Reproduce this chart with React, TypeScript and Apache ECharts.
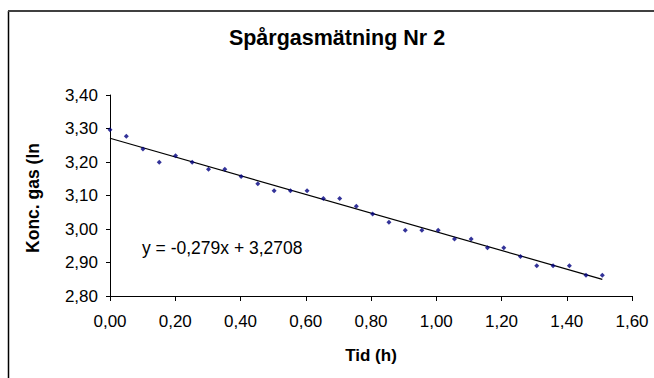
import React, { useEffect, useRef } from "react";
import * as echarts from "echarts";

const chartTitle = "Spårgasmätning Nr 2";
const xAxisTitle = "Tid (h)";
const yAxisTitle = "Konc. gas (ln";
const equationText = "y = -0,279x + 3,2708";

const timeH = [
  0, 0.05, 0.101, 0.151, 0.201, 0.252, 0.302, 0.352, 0.402, 0.453, 0.503,
  0.553, 0.604, 0.654, 0.704, 0.755, 0.805, 0.855, 0.905, 0.956, 1.006,
  1.056, 1.107, 1.157, 1.207, 1.258, 1.308, 1.358, 1.408, 1.459, 1.509,
];
const lnConc = [
  3.296, 3.277, 3.239, 3.199, 3.219, 3.199, 3.178, 3.178, 3.157, 3.135, 3.114,
  3.114, 3.114, 3.091, 3.091, 3.068, 3.045, 3.02, 2.996, 2.996, 2.996,
  2.97, 2.97, 2.944, 2.944, 2.918, 2.89, 2.89, 2.89, 2.862, 2.862,
];
const trendSlope = -0.279;
const trendIntercept = 3.2708;
const trendRange = [0, 1.509];

const FONT = "'Liberation Sans', Arial, sans-serif";
const fmt = (v: number) => v.toFixed(2).replace(".", ",");

export default function App() {
  const ref = useRef<HTMLDivElement>(null);
  useEffect(() => {
    if (!ref.current) return;
    const chart = echarts.init(ref.current, undefined, { renderer: "svg" });
    const points = timeH.map((t, i) => [t, lnConc[i]]);
    const trend = trendRange.map((t) => [t, trendIntercept + trendSlope * t]);
    chart.setOption({
      animation: false,
      backgroundColor: "#ffffff",
      grid: { left: 110, right: 22, top: 95, bottom: 82 },
      xAxis: {
        type: "value",
        min: 0,
        max: 1.6,
        interval: 0.2,
        axisLine: { show: true, lineStyle: { color: "#000", width: 1 } },
        axisTick: { show: true, length: 5, lineStyle: { color: "#000" } },
        splitLine: { show: false },
        axisLabel: {
          color: "#000",
          fontFamily: FONT,
          fontSize: 17,
          margin: 17,
          formatter: fmt,
        },
      },
      yAxis: {
        type: "value",
        min: 2.8,
        max: 3.4,
        interval: 0.1,
        axisLine: { show: true, lineStyle: { color: "#000", width: 1 } },
        axisTick: { show: true, length: 4, lineStyle: { color: "#000" } },
        splitLine: { show: false },
        axisLabel: {
          color: "#000",
          fontFamily: FONT,
          fontSize: 17,
          margin: 12,
          formatter: fmt,
        },
      },
      series: [
        {
          type: "line",
          data: trend,
          symbol: "none",
          lineStyle: { color: "#000", width: 1.2 },
          z: 2,
        },
        {
          type: "scatter",
          data: points,
          symbol: "diamond",
          symbolSize: 5,
          itemStyle: { color: "#000080" },
          z: 3,
        },
      ],
      graphic: [
        {
          type: "line",
          shape: { x1: 8.5, y1: 378, x2: 8.5, y2: 11 },
          style: { stroke: "#000", lineWidth: 1.5 },
        },
        {
          type: "line",
          shape: { x1: 8, y1: 11, x2: 654, y2: 11 },
          style: { stroke: "#404040", lineWidth: 2 },
        },
        {
          type: "text",
          x: 337,
          y: 38,
          style: {
            text: chartTitle,
            fontFamily: FONT,
            fontWeight: "bold",
            fontSize: 21.5,
            fill: "#000",
            align: "center",
            verticalAlign: "middle",
          },
        },
        {
          type: "text",
          x: 371,
          y: 355,
          style: {
            text: xAxisTitle,
            fontFamily: FONT,
            fontWeight: "bold",
            fontSize: 17,
            fill: "#000",
            align: "center",
            verticalAlign: "middle",
          },
        },
        {
          type: "text",
          x: 33,
          y: 198,
          rotation: Math.PI / 2,
          style: {
            text: yAxisTitle,
            fontFamily: FONT,
            fontWeight: "bold",
            fontSize: 17.5,
            fill: "#000",
            align: "center",
            verticalAlign: "middle",
          },
        },
        {
          type: "text",
          x: 142,
          y: 248,
          style: {
            text: equationText,
            fontFamily: FONT,
            fontSize: 17.5,
            fill: "#000",
            align: "left",
            verticalAlign: "middle",
          },
        },
      ],
    });
    return () => chart.dispose();
  }, []);
  return (
    <div
      ref={ref}
      style={{ position: "absolute", left: 0, top: 0, width: 654, height: 378 }}
    />
  );
}
